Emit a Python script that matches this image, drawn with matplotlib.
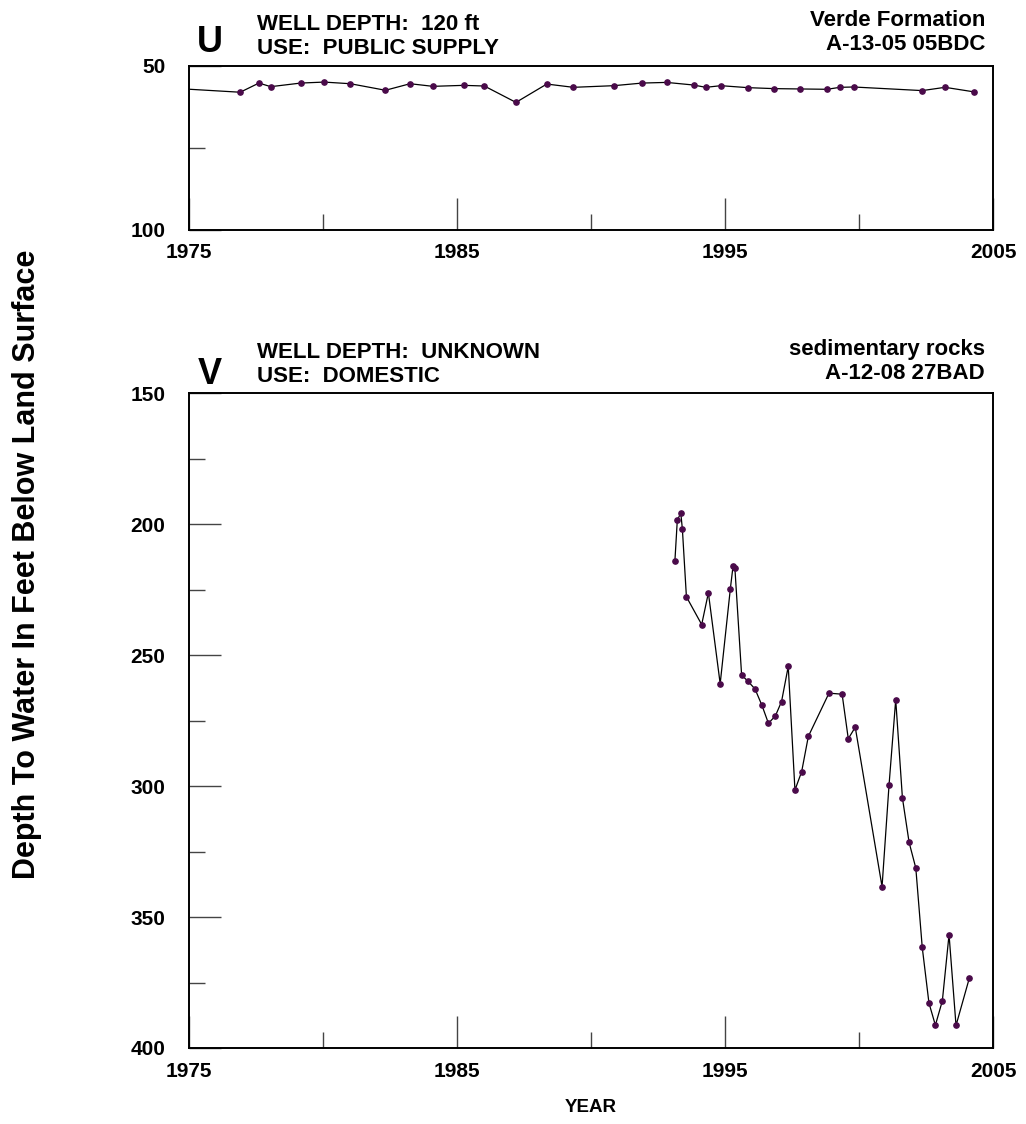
import matplotlib
matplotlib.use("Agg")
import matplotlib.pyplot as plt
from matplotlib.ticker import MultipleLocator, FixedLocator

plt.rcParams['font.family'] = ['Liberation Sans', 'DejaVu Sans']
plt.rcParams['font.weight'] = 'bold'

# Panel U: Verde Formation, A-13-05 05BDC
u_years = [1974.0, 1976.91, 1977.61, 1978.05, 1979.17, 1980.04, 1981.02, 1982.33,
           1983.25, 1984.10, 1985.25, 1986.02, 1987.20, 1988.35, 1989.34, 1990.85,
           1991.91, 1992.82, 1993.83, 1994.28, 1994.85, 1995.85, 1996.84, 1997.80,
           1998.81, 1999.29, 1999.80, 2002.36, 2003.21, 2004.30]
u_depth = [56.7, 58.1, 55.3, 56.4, 55.3, 55.0, 55.5, 57.5,
           55.5, 56.3, 56.0, 56.2, 61.2, 55.6, 56.6, 56.1,
           55.3, 55.1, 55.9, 56.6, 56.1, 56.7, 57.0, 57.1,
           57.2, 56.6, 56.5, 57.6, 56.6, 58.0]

# Panel V: sedimentary rocks, A-12-08 27BAD
v_years = [1993.13, 1993.22, 1993.35, 1993.41, 1993.56, 1994.13, 1994.38, 1994.82,
           1995.20, 1995.30, 1995.37, 1995.62, 1995.86, 1996.12, 1996.38, 1996.62,
           1996.88, 1997.11, 1997.36, 1997.61, 1997.86, 1998.11, 1998.88, 1999.37,
           1999.60, 1999.86, 2000.86, 2001.12, 2001.37, 2001.62, 2001.87, 2002.12,
           2002.36, 2002.61, 2002.85, 2003.11, 2003.36, 2003.62, 2004.12]
v_depth = [214.1, 198.5, 195.7, 201.9, 227.7, 238.3, 226.2, 260.9,
           224.6, 216.0, 216.9, 257.6, 260.0, 262.9, 269.2, 276.0,
           273.2, 267.7, 254.3, 301.5, 294.5, 281.0, 264.5, 264.9,
           281.9, 277.5, 338.4, 299.7, 267.0, 304.5, 321.5, 331.3,
           361.6, 382.8, 391.3, 382.0, 356.7, 391.4, 373.2]

x_labels = [1975, 1985, 1995, 2005]
x_minor = [1980, 1990, 2000]

W, H = 1026, 1124
fig = plt.figure(figsize=(W / 100, H / 100), dpi=100)


def px(x, y):
    return x / W, 1 - y / H


def make_axes(top, bottom, ylo, yhi, ymajor, yminor):
    ax = fig.add_axes([189 / W, 1 - bottom / H, 804 / W, (bottom - top) / H])
    ax.set_xlim(1975, 2005)
    ax.set_ylim(yhi, ylo)
    ax.xaxis.set_major_locator(FixedLocator(x_labels))
    ax.xaxis.set_minor_locator(FixedLocator(x_minor))
    ax.yaxis.set_major_locator(MultipleLocator(ymajor))
    ax.yaxis.set_minor_locator(MultipleLocator(yminor))
    ax.tick_params(which='both', direction='in', color='#444444', width=1.0,
                   top=False, right=False)
    ax.tick_params(which='major', length=23)
    ax.tick_params(which='minor', length=11.5)
    ax.tick_params(axis='x', which='major', pad=10, labelsize=15)
    ax.tick_params(axis='y', which='major', pad=17, labelsize=15)
    for lab in ax.get_xticklabels() + ax.get_yticklabels():
        lab.set_fontweight('bold')
    for s in ax.spines.values():
        s.set_linewidth(1.4)
        s.set_color('black')
    return ax


mk = dict(color='black', lw=0.9, marker='o', markersize=3.8,
          markerfacecolor='#4a0a4a', markeredgecolor='#4a0a4a')

ax1 = make_axes(65.7, 229.5, 50, 100, 50, 25)
ax1.plot(u_years, u_depth, **mk)

ax2 = make_axes(393.3, 1048, 150, 400, 50, 25)
ax2.plot(v_years, v_depth, **mk)

# Panel annotations
fs = 16
fig.text(*px(210, 43), 'U', fontsize=26, fontweight='bold', ha='center', va='center')
fig.text(*px(257, 25), 'WELL DEPTH:  120 ft', fontsize=fs, fontweight='bold', ha='left', va='center')
fig.text(*px(257, 48), 'USE:  PUBLIC SUPPLY', fontsize=fs, fontweight='bold', ha='left', va='center')
fig.text(*px(985, 21), 'Verde Formation', fontsize=fs, fontweight='bold', ha='right', va='center')
fig.text(*px(985, 45), 'A-13-05 05BDC', fontsize=fs, fontweight='bold', ha='right', va='center')

fig.text(*px(210, 375), 'V', fontsize=26, fontweight='bold', ha='center', va='center')
fig.text(*px(257, 353), 'WELL DEPTH:  UNKNOWN', fontsize=fs, fontweight='bold', ha='left', va='center')
fig.text(*px(257, 376), 'USE:  DOMESTIC', fontsize=fs, fontweight='bold', ha='left', va='center')
fig.text(*px(985, 349), 'sedimentary rocks', fontsize=fs, fontweight='bold', ha='right', va='center')
fig.text(*px(985, 373), 'A-12-08 27BAD', fontsize=fs, fontweight='bold', ha='right', va='center')

fig.text(*px(27, 564), 'Depth To Water In Feet Below Land Surface', fontsize=22,
         fontweight='bold', rotation=90, ha='center', va='center')
fig.text(*px(591, 1107), 'YEAR', fontsize=13.5, fontweight='bold', ha='center', va='center')

fig.savefig('out.png', dpi=100)
